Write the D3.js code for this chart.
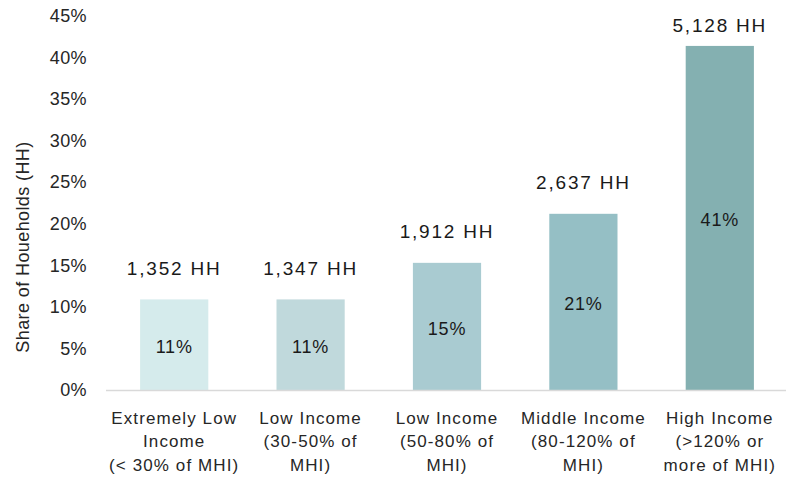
<!DOCTYPE html>
<html>
<head>
<meta charset="utf-8">
<script src="https://cdn.jsdelivr.net/npm/d3@7"></script>
<style>
  html, body { margin: 0; padding: 0; background: #fff; }
  svg { display: block; }
</style>
</head>
<body>
<svg id="chart" width="786" height="481"></svg>
<script>
// Income groups with households and their share of all households
const categories = [
  ["Extremely Low", "Income", "(< 30% of MHI)"],
  ["Low Income", "(30-50% of", "MHI)"],
  ["Low Income", "(50-80% of", "MHI)"],
  ["Middle Income", "(80-120% of", "MHI)"],
  ["High Income", "(>120% or", "more of MHI)"]
];
const households = [1352, 1347, 1912, 2637, 5128];
const shares = [0.109, 0.109, 0.153, 0.212, 0.414];
const barColors = ["#d5ebec", "#c0d9dc", "#a9cbd1", "#95bfc5", "#84b0b1"];
const yTicks = [0, 0.05, 0.10, 0.15, 0.20, 0.25, 0.30, 0.35, 0.40, 0.45];

const svg = d3.select("#chart");
const margin = { top: 16, right: 0, bottom: 91, left: 106 };
const W = 786, H = 481;
const baseY = H - margin.bottom;

const x = d3.scaleBand()
  .domain(d3.range(categories.length))
  .range([margin.left, 788])
  .paddingInner(0.5)
  .paddingOuter(0.25);

const y = d3.scaleLinear()
  .domain([0, 0.45])
  .range([baseY, margin.top]);

const fontMain = "'Liberation Sans', Arial, sans-serif";

// Y axis: labels only, no domain line or ticks
const yAxis = d3.axisLeft(y)
  .tickValues(yTicks)
  .tickFormat(d3.format(".0%"))
  .tickSize(0)
  .tickPadding(0);

svg.append("g")
  .attr("transform", `translate(87,0)`)
  .call(yAxis)
  .call(g => g.select(".domain").remove())
  .call(g => g.selectAll("text")
    .attr("font-family", fontMain)
    .attr("font-size", 18)
    .attr("letter-spacing", 0.4)
    .attr("fill", "#262626"));

// Axis title
svg.append("text")
  .attr("transform", `translate(29,${(margin.top + baseY) / 2 + 44}) rotate(-90)`)
  .attr("text-anchor", "middle")
  .attr("font-family", fontMain)
  .attr("font-size", 18)
  .attr("letter-spacing", 0.4)
  .attr("fill", "#262626")
  .text("Share of Houeholds (HH)");

// Bars
svg.append("g").selectAll("rect")
  .data(shares)
  .join("rect")
  .attr("x", (d, i) => x(i))
  .attr("width", x.bandwidth())
  .attr("y", d => y(d))
  .attr("height", d => baseY - y(d))
  .attr("fill", (d, i) => barColors[i]);

// Baseline
svg.append("line")
  .attr("x1", margin.left).attr("x2", 786)
  .attr("y1", baseY + 0.5).attr("y2", baseY + 0.5)
  .attr("stroke", "#d9d9d9")
  .attr("stroke-width", 1.5);

// Share labels centred in each bar
svg.append("g").selectAll("text")
  .data(shares)
  .join("text")
  .attr("x", (d, i) => x(i) + x.bandwidth() / 2)
  .attr("y", d => (y(d) + baseY) / 2 + 2)
  .attr("dy", "0.35em")
  .attr("text-anchor", "middle")
  .attr("font-family", fontMain)
  .attr("font-size", 18)
  .attr("letter-spacing", 0.8)
  .attr("fill", "#1a1a1a")
  .text(d => d3.format(".0%")(d));

// Household counts above bars
svg.append("g").selectAll("text")
  .data(households)
  .join("text")
  .attr("x", (d, i) => x(i) + x.bandwidth() / 2)
  .attr("y", (d, i) => Math.max(25, y(shares[i]) - 31))
  .attr("dy", "0.35em")
  .attr("text-anchor", "middle")
  .attr("font-family", fontMain)
  .attr("font-size", 19)
  .attr("letter-spacing", 1.8)
  .attr("fill", "#1a1a1a")
  .text(d => d3.format(",")(d) + " HH");

// Category labels, three lines each
const catG = svg.append("g").selectAll("text")
  .data(categories)
  .join("text")
  .attr("text-anchor", "middle")
  .attr("font-family", fontMain)
  .attr("font-size", 17)
  .attr("letter-spacing", 1.1)
  .attr("fill", "#262626");

catG.selectAll("tspan")
  .data((d, i) => d.map(line => ({ line, i })))
  .join("tspan")
  .attr("x", d => x(d.i) + x.bandwidth() / 2)
  .attr("y", (d, j) => baseY + 28 + j * 23.5)
  .attr("dy", "0.35em")
  .text(d => d.line);
</script>
</body>
</html>
